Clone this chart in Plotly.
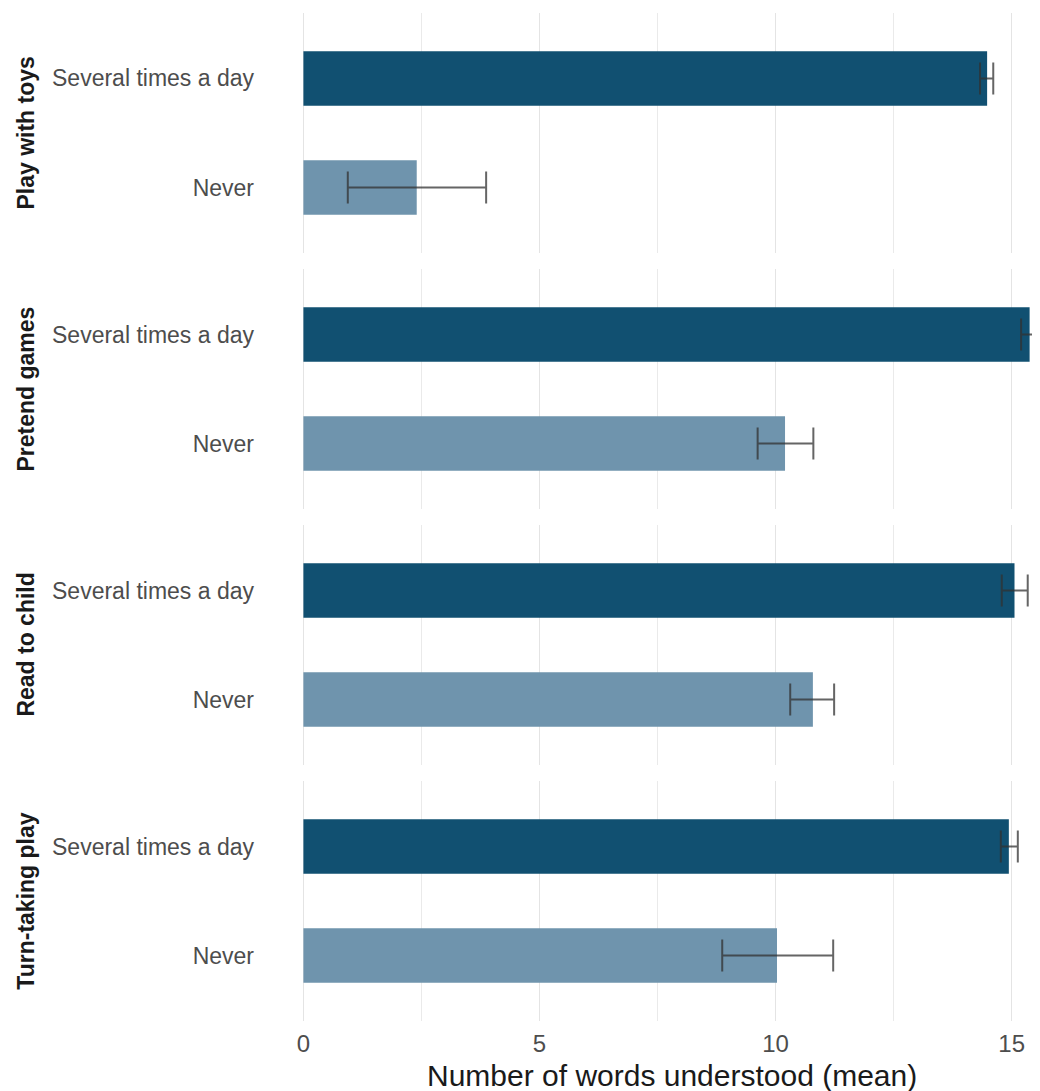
import plotly.graph_objects as go
from plotly.subplots import make_subplots

activities = ["Play with toys", "Pretend games", "Read to child", "Turn-taking play"]
levels = ["Several times a day", "Never"]
mean_several = [14.48, 15.38, 15.06, 14.94]
low_several = [14.33, 15.20, 14.79, 14.77]
high_several = [14.61, 15.57, 15.34, 15.13]
mean_never = [2.40, 10.20, 10.79, 10.03]
low_never = [0.94, 9.62, 10.31, 8.87]
high_never = [3.87, 10.80, 11.24, 11.22]

dark = "#115071"
light = "#6f94ad"
err_col = "rgba(50,50,50,0.75)"
font_family = "Liberation Sans, Arial, sans-serif"

n = len(activities)
fig = make_subplots(rows=n, cols=1, shared_xaxes=True, vertical_spacing=0.016)

for i in range(n):
    for lvl, m, lo, hi, col in [
        (levels[0], mean_several[i], low_several[i], high_several[i], dark),
        (levels[1], mean_never[i], low_never[i], high_never[i], light),
    ]:
        fig.add_trace(
            go.Bar(
                x=[m], y=[lvl], orientation="h", width=0.5,
                marker=dict(color=col, line=dict(width=0)),
                error_x=dict(type="data", symmetric=False,
                             array=[hi - m], arrayminus=[m - lo],
                             color=err_col, thickness=2, width=16),
                showlegend=False,
            ),
            row=i + 1, col=1,
        )
    fig.update_yaxes(
        categoryorder="array", categoryarray=levels[::-1],
        range=[-0.6, 1.6], showgrid=False, zeroline=False,
        ticks="", ticklabelstandoff=13,
        tickfont=dict(size=23, color="#4d4d4d", family=font_family),
        row=i + 1, col=1,
    )

fig.update_xaxes(
    range=[-0.75, 15.60], tickvals=[0, 5, 10, 15], ticktext=["0", "5", "10", "15"],
    showgrid=True, gridcolor="#e4e4e4", gridwidth=1.2, zeroline=False,
    minor=dict(tickvals=[2.5, 7.5, 12.5], showgrid=True, gridcolor="#eaeaea", gridwidth=0.9),
    ticks="", ticklabelstandoff=6,
    tickfont=dict(size=24, color="#4d4d4d", family=font_family),
)

# x-axis title (centred like the original panel)
fig.add_annotation(
    text="Number of words understood (mean)", xref="paper", yref="paper",
    x=0.523, y=-0.0536, xanchor="center", yanchor="middle", showarrow=False,
    font=dict(size=30, color="#1a1a1a", family=font_family),
)

# facet strip labels on the left
for i, act in enumerate(activities):
    yaxis = fig.layout["yaxis" if i == 0 else f"yaxis{i+1}"]
    d0, d1 = yaxis.domain
    fig.add_annotation(
        text=f"<b>{act}</b>", textangle=-90, xref="paper", yref="paper",
        x=-0.314, y=(d0 + d1) / 2, xanchor="center", yanchor="middle",
        showarrow=False, font=dict(size=23, color="#1a1a1a", family=font_family),
    )

fig.update_layout(
    width=1032, height=1083,
    margin=dict(l=260, r=0, t=5, b=70),
    plot_bgcolor="white", paper_bgcolor="white",
    bargap=0.5, font=dict(family=font_family),
)

fig.write_html("out.html")
